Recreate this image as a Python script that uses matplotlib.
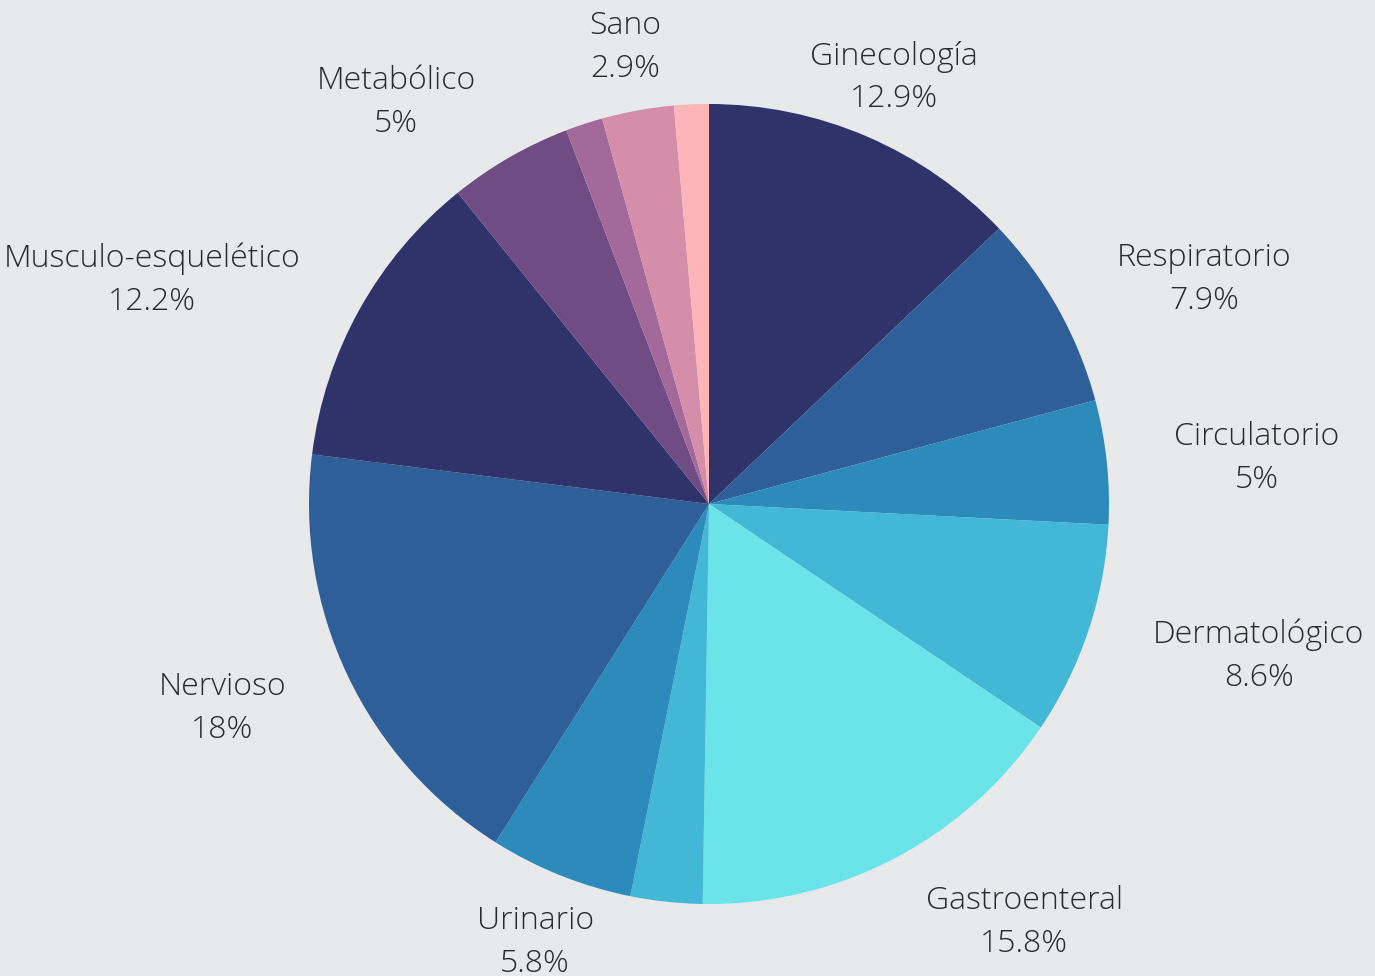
import numpy as np
import matplotlib
matplotlib.use("Agg")
import matplotlib.pyplot as plt

# data, clockwise from 12 o'clock
categories = ["Ginecología", "Respiratorio", "Circulatorio", "Dermatológico",
              "Gastroenteral", "", "Urinario", "Nervioso",
              "Musculo-esquelético", "Metabólico", "", "Sano", ""]
values = [12.9, 7.9, 5.0, 8.6, 15.8, 2.9, 5.8, 18.0, 12.2, 5.0, 1.5, 2.9, 1.4]
pct_labels = ["12.9%", "7.9%", "5%", "8.6%", "15.8%", "", "5.8%", "18%",
              "12.2%", "5%", "", "2.9%", ""]
colors = ["#2f336a", "#2e5f98", "#2c8bba", "#42b7d6", "#6ae4e8", "#42b7d6",
          "#2c8bba", "#2e5f98", "#2f336a", "#6f4c84", "#a2699a", "#d58eaa",
          "#feb5ba"]

plt.rcParams['font.family'] = ['Open Sans', 'DejaVu Sans']

W, H = 1375, 976
cx, cy, R = 709, 504, 400
fig = plt.figure(figsize=(W / 100, H / 100), dpi=100)
fig.patch.set_facecolor("#e8e9ea")
ax = fig.add_axes([0, 0, 1, 1])
ax.set_facecolor("#e8e9ea")

wedges, _ = ax.pie(values, colors=colors, startangle=90, counterclock=False,
                   radius=1.0, wedgeprops=dict(linewidth=0))

# pie() sets its own limits, so put ours back afterwards
ax.set_xlim(-cx / R, (W - cx) / R)
ax.set_ylim(-(H - cy) / R, cy / R)
ax.set_aspect("equal")
ax.axis("off")

for w, name, pct in zip(wedges, categories, pct_labels):
    if not name:
        continue
    mid = np.deg2rad((w.theta1 + w.theta2) / 2)
    x, y = 1.17 * np.cos(mid), 1.17 * np.sin(mid) - 0.01
    if abs(np.cos(mid)) < 0.45:
        ha = "center"
    elif x > 0:
        ha = "left"
    else:
        ha = "right"
    ax.text(x, y, name + "\n" + pct, ha=ha, va="center", multialignment="center",
            fontsize=23, fontweight="light", color="#2b2b2b", linespacing=1.45)

fig.savefig("out.png", dpi=100, facecolor=fig.get_facecolor())
